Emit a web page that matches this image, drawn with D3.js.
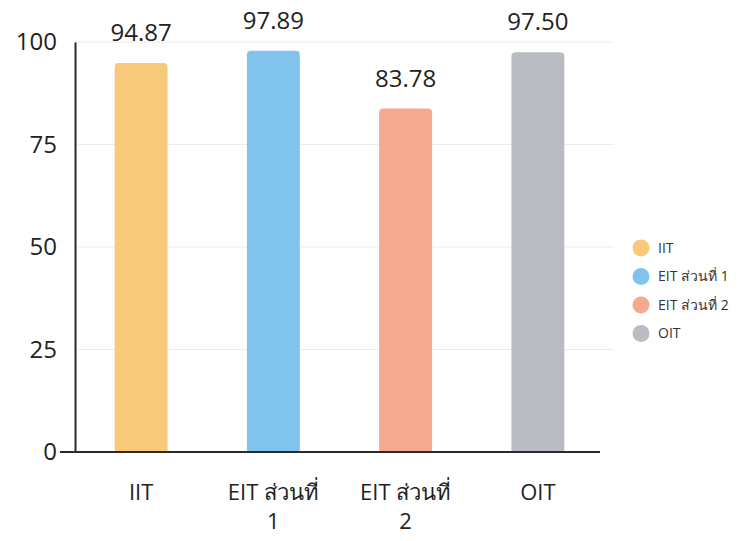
<!DOCTYPE html>
<html><head><meta charset="utf-8">
<script src="https://cdn.jsdelivr.net/npm/d3@7"></script>
<style>body{margin:0;background:#fff}</style>
</head><body>
<svg id="c" width="745" height="541"></svg>
<script>
const categories = ["IIT", "EIT ส่วนที่ 1", "EIT ส่วนที่ 2", "OIT"];
const values = [94.87, 97.89, 83.78, 97.50];
const valueLabels = ["94.87", "97.89", "83.78", "97.50"];
const colors = ["#F8C97A", "#80C4EE", "#F5A98E", "#B9BCC3"];
const yTicks = [0, 25, 50, 75, 100];

const svg = d3.select("#c");
const font = "'Open Sans', Lato, sans-serif";
const m = {left: 75, right: 604, top: 42, bottom: 452};
const x = d3.scaleBand().domain(categories).range([m.left, m.right]).paddingInner(0.6).paddingOuter(0.3);
const y = d3.scaleLinear().domain([0, 100]).range([m.bottom, m.top]);

// gridlines
svg.append("g").selectAll("line").data(yTicks.filter(t => t > 0)).join("line")
  .attr("x1", m.left).attr("x2", m.right + 10)
  .attr("y1", d => y(d)).attr("y2", d => y(d))
  .attr("stroke", "#ececec").attr("stroke-width", 1);

// y axis
const ya = svg.append("g").attr("transform", `translate(${m.left},0)`)
  .call(d3.axisLeft(y).tickValues(yTicks).tickSize(0).tickPadding(18));
ya.select(".domain").attr("stroke", "#2a2a2a").attr("stroke-width", 2);
ya.selectAll("text").attr("font-family", font).attr("font-size", 24).attr("fill", "#222");

// bars with rounded tops
const r = 4;
svg.append("g").selectAll("path").data(categories).join("path")
  .attr("fill", (d, i) => colors[i])
  .attr("d", (d, i) => {
    const x0 = x(d), w = x.bandwidth(), y0 = y(values[i]), yb = y(0);
    return `M${x0},${yb}V${y0 + r}Q${x0},${y0} ${x0 + r},${y0}H${x0 + w - r}Q${x0 + w},${y0} ${x0 + w},${y0 + r}V${yb}Z`;
  });

// x axis
const xa = svg.append("g").attr("transform", `translate(0,${m.bottom})`)
  .call(d3.axisBottom(x).tickSize(0).tickPadding(0));
xa.select(".domain").attr("d", `M${m.left - 15},0H${m.right - 4}`).attr("stroke", "#2a2a2a").attr("stroke-width", 2);
xa.selectAll(".tick text").remove();
xa.selectAll(".tick").each(function(d) {
  const t = d3.select(this).append("text").attr("font-family", font).attr("font-size", 22)
    .attr("fill", "#222").attr("text-anchor", "middle").attr("y", 48);
  if (d.includes("ส่วนที่")) {
    const idx = d.lastIndexOf(" ");
    t.append("tspan").attr("x", 0).text(d.slice(0, idx));
    t.append("tspan").attr("x", 0).attr("dy", 29).text(d.slice(idx + 1));
  } else {
    t.text(d);
  }
});

// value labels
svg.append("g").selectAll("text").data(categories).join("text")
  .attr("x", d => x(d) + x.bandwidth() / 2)
  .attr("y", (d, i) => y(values[i]) - 22)
  .attr("text-anchor", "middle").attr("font-family", font).attr("font-size", 24).attr("fill", "#222")
  .text((d, i) => valueLabels[i]);

// legend
const lg = svg.append("g").attr("transform", "translate(641,248)");
const li = lg.selectAll("g").data(categories).join("g").attr("transform", (d, i) => `translate(0,${i * 28.5})`);
li.append("circle").attr("r", 8.5).attr("fill", (d, i) => colors[i]);
li.append("text").attr("x", 17).attr("dy", "0.35em").attr("font-family", font).attr("font-size", 14)
  .attr("fill", "#333").text(d => d);
</script>
</body></html>
